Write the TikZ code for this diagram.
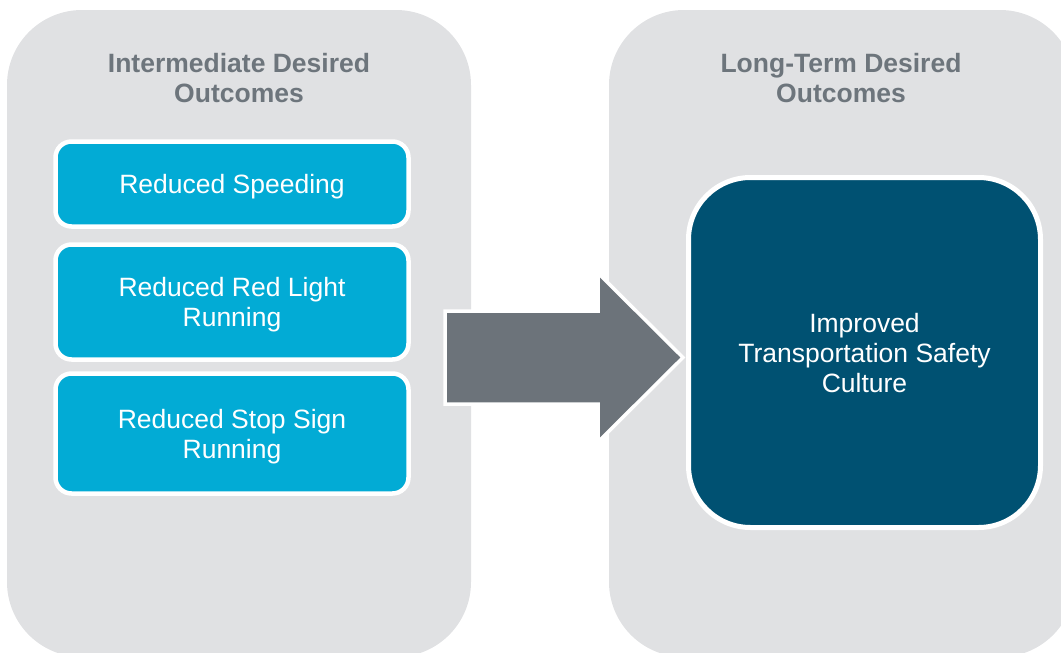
\documentclass[tikz,border=0pt]{standalone}
\usepackage{fontspec}
\setmainfont{Liberation Sans}
\definecolor{panelgray}{HTML}{E0E1E3}
\definecolor{titlegray}{HTML}{6D757C}
\definecolor{boxblue}{HTML}{02ABD5}
\definecolor{darkblue}{HTML}{005172}
\definecolor{arrowgray}{HTML}{6C737A}
\begin{document}
\begin{tikzpicture}[x=1pt,y=-1pt,
  panel/.style={fill=panelgray, rounded corners=75pt},
  paneltitle/.style={text=titlegray, font=\fontsize{26.5}{30}\selectfont\bfseries, align=center, inner sep=0pt},
  outcome/.style={fill=boxblue, draw=white, line width=4.5pt, rounded corners=16pt,
    minimum width=353pt, text=white, font=\fontsize{26.5}{30}\selectfont, align=center, inner sep=0pt, text depth=0pt},
  longterm/.style={fill=darkblue, draw=white, line width=5pt, rounded corners=62pt,
    minimum width=352pt, minimum height=350pt, text=white, font=\fontsize{26.5}{30}\selectfont, align=center, inner sep=0pt, text depth=0pt},
  blockarrow/.style={fill=arrowgray, draw=white, line width=3.5pt, line join=miter}
]
\useasboundingbox (0,0) rectangle (1061,653);
% panels
\fill[panel] (7,10) rectangle (471,657);
\fill[panel] (609,10) rectangle (1075,657);
% titles
\node[paneltitle] (t1) at (239,78.5) {Intermediate Desired\\Outcomes};
\node[paneltitle] (t2) at (841,78.5) {Long-Term Desired\\Outcomes};
% intermediate outcomes
\node[outcome, minimum height=85pt] (b1) at (232,184) {Reduced Speeding};
\node[outcome, minimum height=115pt] (b2) at (232,302) {Reduced Red Light\\Running};
\node[outcome, minimum height=120pt] (b3) at (232,433.5) {Reduced Stop Sign\\Running};
% block arrow
\draw[blockarrow] (445,311) -- (598,311) -- (598,273) -- (683,357.5) -- (598,442) -- (598,404) -- (445,404) -- cycle;
% long-term outcome
\node[longterm] (lt) at (864.5,352.5) {Improved\\Transportation Safety\\Culture};
\end{tikzpicture}
\end{document}
